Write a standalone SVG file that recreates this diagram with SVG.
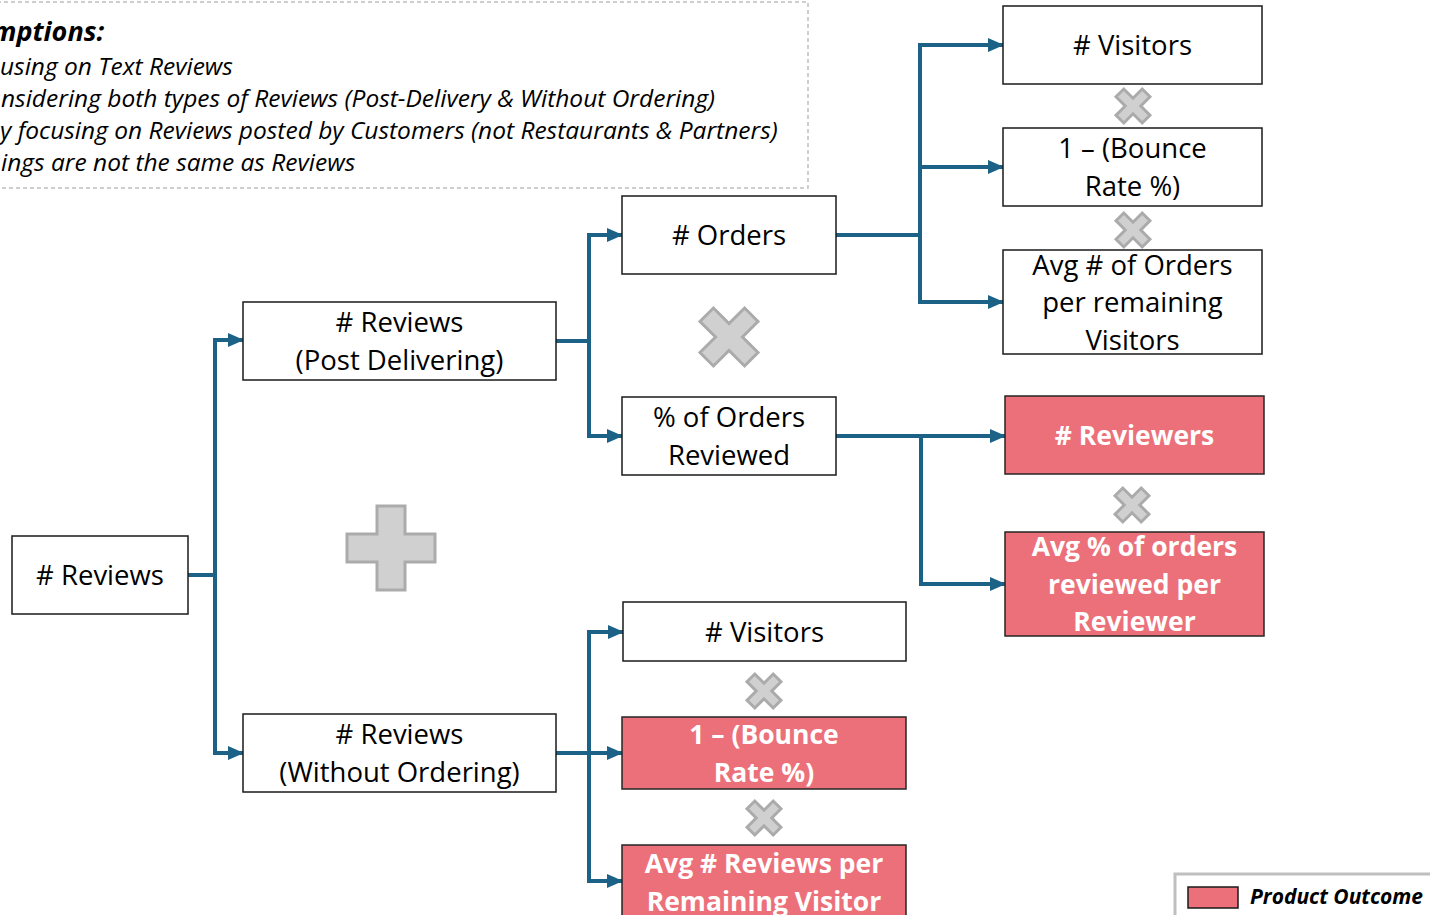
<svg xmlns="http://www.w3.org/2000/svg" width="1430" height="915" viewBox="0 0 1430 915">
  <style>
    .box { fill: #ffffff; stroke: #1a1a1a; stroke-width: 1.5; }
    .out { fill: #EC707A; stroke: #262626; stroke-width: 1.5; }
    .t { font-family: "Open Sans", "Noto Sans", sans-serif; font-size: 27.5px; fill: #000000; text-anchor: middle; }
    .tw { font-family: "Open Sans", "Noto Sans", sans-serif; font-size: 26.5px; font-weight: bold; fill: #FFFFFF; text-anchor: middle; }
    .note { font-family: "Open Sans", "Noto Sans", sans-serif; font-size: 24.5px; font-style: italic; fill: #000000; }
    .noteh { font-family: "Open Sans", "Noto Sans", sans-serif; font-size: 27px; font-style: italic; font-weight: bold; fill: #000000; }
    .conn { fill: none; stroke: #1B6286; stroke-width: 4; stroke-linejoin: miter; marker-end: url(#arrow); }
    .op { fill: #D0D0D0; stroke: #ABABAB; stroke-width: 3; stroke-linejoin: miter; }
  </style>
  <defs>
    <marker id="arrow" markerUnits="userSpaceOnUse" markerWidth="16" markerHeight="16" viewBox="0 0 16 16" refX="15" refY="8" orient="auto">
      <path d="M0,1 L16,8 L0,15 Z" fill="#1B6286"/>
    </marker>
    <!-- multiplication sign, large and small -->
    <path id="timesL" d="M-9.5,-31.5 L9.5,-31.5 L9.5,-9.5 L31.5,-9.5 L31.5,9.5 L9.5,9.5 L9.5,31.5 L-9.5,31.5 L-9.5,9.5 L-31.5,9.5 L-31.5,-9.5 L-9.5,-9.5 Z" transform="rotate(45)"/>
    <path id="timesS" d="M-5.5,-18.5 L5.5,-18.5 L5.5,-5.5 L18.5,-5.5 L18.5,5.5 L5.5,5.5 L5.5,18.5 L-5.5,18.5 L-5.5,5.5 L-18.5,5.5 L-18.5,-5.5 L-5.5,-5.5 Z" transform="rotate(45)"/>
  </defs>

  <rect width="1430" height="915" fill="#ffffff"/>

  <!-- assumptions panel -->
  <g id="assumptions">
    <rect x="-10" y="2" width="818" height="186" fill="none" stroke="#BFBFBF" stroke-width="1.5" stroke-dasharray="4 3"/>
    <text class="noteh" x="-8" y="41">mptions:</text>
    <text class="note" x="0" y="75">using on Text Reviews</text>
    <text class="note" x="1" y="107">nsidering both types of Reviews (Post-Delivery &amp; Without Ordering)</text>
    <text class="note" x="0" y="139">y focusing on Reviews posted by Customers (not Restaurants &amp; Partners)</text>
    <text class="note" x="1" y="171">ings are not the same as Reviews</text>
  </g>

  <!-- connectors -->
  <g id="connectors">
    <path class="conn" d="M188,575 H215 V340 H243"/>
    <path class="conn" d="M215,575 V753 H243"/>
    <path class="conn" d="M556,341 H589 V235 H622"/>
    <path class="conn" d="M589,341 V436 H622"/>
    <path class="conn" d="M556,753 H622"/>
    <path class="conn" d="M589,753 V632 H623"/>
    <path class="conn" d="M589,753 V881 H622"/>
    <path class="conn" d="M836,235 H920 V45 H1003"/>
    <path class="conn" d="M920,235 V302 H1003"/>
    <path class="conn" d="M920,167 H1003"/>
    <path class="conn" d="M836,436 H1005"/>
    <path class="conn" d="M921,436 V584 H1005"/>
  </g>

  <!-- operators -->
  <g id="operators">
    <path class="op" d="M377,506 H405 V534 H435 V562 H405 V590 H377 V562 H347 V534 H377 Z"/>
    <use href="#timesL" class="op" x="729" y="337"/>
    <use href="#timesS" class="op" x="1133" y="106"/>
    <use href="#timesS" class="op" x="1133" y="230"/>
    <use href="#timesS" class="op" x="1132" y="505"/>
    <use href="#timesS" class="op" x="764" y="691"/>
    <use href="#timesS" class="op" x="764" y="818"/>
  </g>

  <g id="n-reviews">
    <rect class="box" x="12" y="536" width="176" height="78"/>
    <text class="t" x="100" y="585"># Reviews</text>
  </g>
  <g id="n-reviews-post">
    <rect class="box" x="243" y="302" width="313" height="78"/>
    <text class="t" x="399.5" y="332"># Reviews</text>
    <text class="t" x="399.5" y="370">(Post Delivering)</text>
  </g>
  <g id="n-reviews-without">
    <rect class="box" x="243" y="714" width="313" height="78"/>
    <text class="t" x="399.5" y="744"># Reviews</text>
    <text class="t" x="399.5" y="782">(Without Ordering)</text>
  </g>
  <g id="n-orders">
    <rect class="box" x="622" y="196" width="214" height="78"/>
    <text class="t" x="729" y="245"># Orders</text>
  </g>
  <g id="n-pct-reviewed">
    <rect class="box" x="622" y="397" width="214" height="78"/>
    <text class="t" x="729" y="427">% of Orders</text>
    <text class="t" x="729" y="465">Reviewed</text>
  </g>
  <g id="n-visitors-b">
    <rect class="box" x="623" y="602" width="283" height="59"/>
    <text class="t" x="764.5" y="641.5"># Visitors</text>
  </g>
  <g id="n-bounce-b">
    <rect class="out" x="622" y="717" width="284" height="72"/>
    <text class="tw" x="764" y="743.5">1 – (Bounce</text>
    <text class="tw" x="764" y="781.5">Rate %)</text>
  </g>
  <g id="n-avg-reviews">
    <rect class="out" x="622" y="845" width="284" height="80"/>
    <text class="tw" x="764" y="872.5">Avg # Reviews per</text>
    <text class="tw" x="764" y="910.5">Remaining Visitor</text>
  </g>
  <g id="n-visitors-t">
    <rect class="box" x="1003" y="6" width="259" height="78"/>
    <text class="t" x="1132.5" y="55"># Visitors</text>
  </g>
  <g id="n-bounce-t">
    <rect class="box" x="1003" y="128" width="259" height="78"/>
    <text class="t" x="1132.5" y="158">1 – (Bounce</text>
    <text class="t" x="1132.5" y="196">Rate %)</text>
  </g>
  <g id="n-avg-orders">
    <rect class="box" x="1003" y="250" width="259" height="104"/>
    <text class="t" x="1132.5" y="274.5">Avg # of Orders</text>
    <text class="t" x="1132.5" y="312">per remaining</text>
    <text class="t" x="1132.5" y="349.5">Visitors</text>
  </g>
  <g id="n-reviewers">
    <rect class="out" x="1005" y="396" width="259" height="78"/>
    <text class="tw" x="1134.5" y="444.5"># Reviewers</text>
  </g>
  <g id="n-avg-pct">
    <rect class="out" x="1005" y="532" width="259" height="104"/>
    <text class="tw" x="1134.5" y="556">Avg % of orders</text>
    <text class="tw" x="1134.5" y="593.5">reviewed per</text>
    <text class="tw" x="1134.5" y="631">Reviewer</text>
  </g>

  <!-- legend -->
  <g id="legend">
    <rect x="1175" y="874" width="270" height="60" fill="#ffffff" stroke="#BFBFBF" stroke-width="3"/>
    <rect x="1188" y="887" width="50" height="21" fill="#EC707A" stroke="#1a1a1a" stroke-width="1.5"/>
    <text x="1250" y="904" font-family="Open Sans, Noto Sans, sans-serif" font-size="21" font-weight="bold" font-style="italic" fill="#000000">Product Outcome</text>
  </g>
</svg>
